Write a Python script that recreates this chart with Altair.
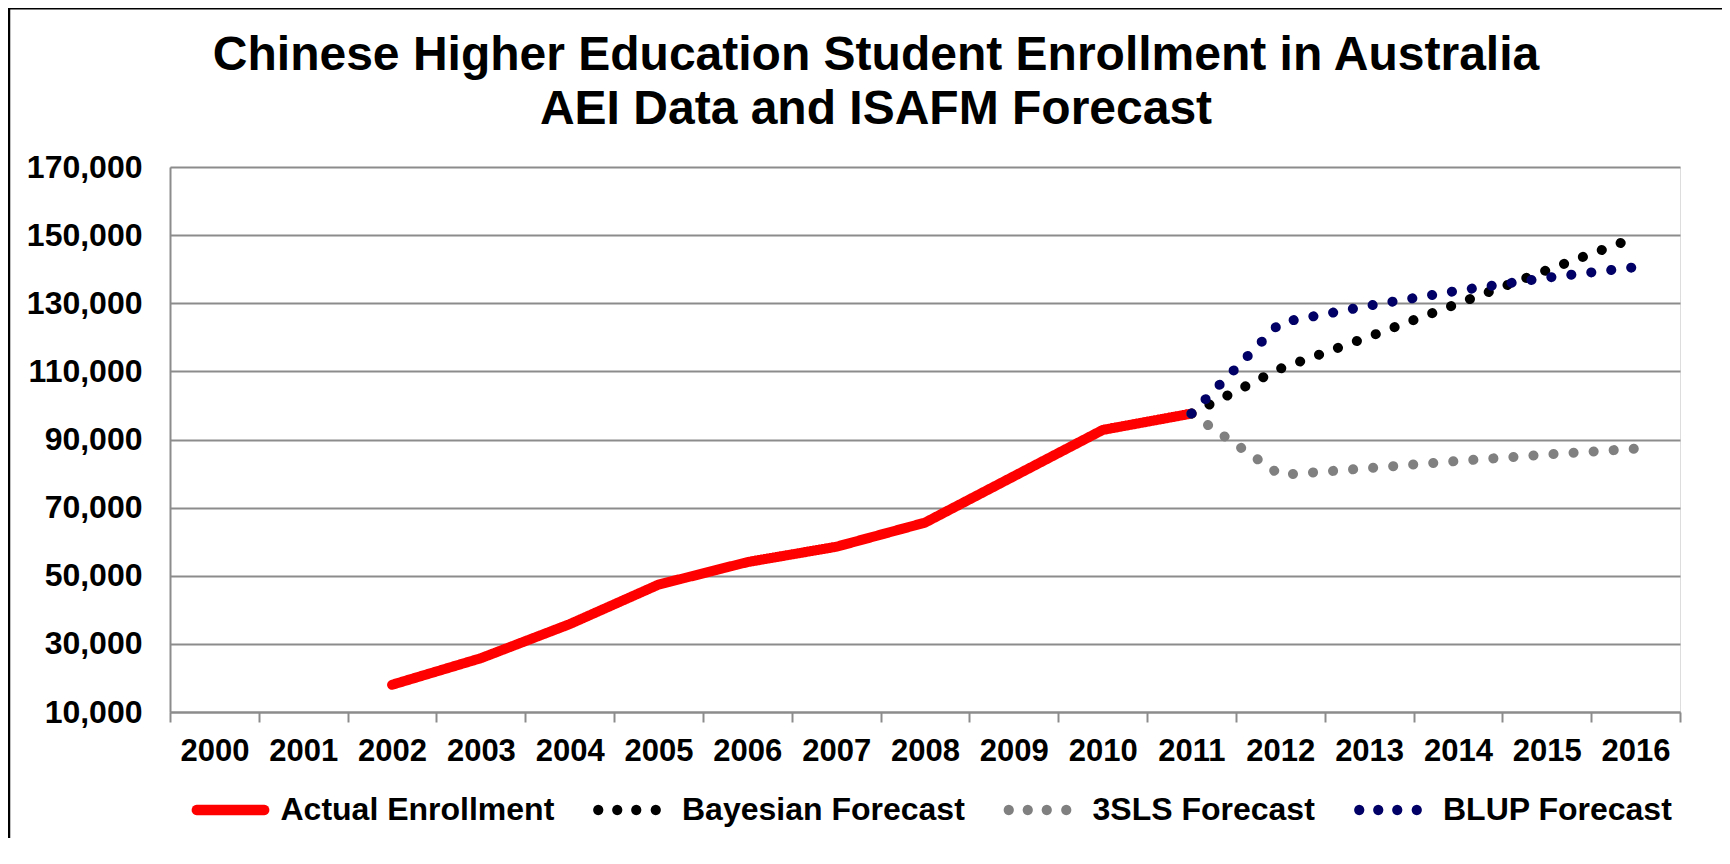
import math
import altair as alt
import pandas as pd

years = [str(y) for y in range(2000, 2017)]
series_names = ["Actual Enrollment", "Bayesian Forecast", "3SLS Forecast", "BLUP Forecast"]
series_colors = ["#FF0000", "#000000", "#808080", "#000066"]

actual_years = ["2002", "2003", "2004", "2005", "2006", "2007", "2008", "2009", "2010", "2011"]
actual_values = [18000, 25800, 35800, 47400, 54000, 58500, 65600, 79200, 92800, 97600]

forecast_years = ["2011", "2012", "2013", "2014", "2015", "2016"]
bayesian_values = [97600, 110800, 120200, 129900, 139700, 149300]
sls_values = [97600, 79600, 81600, 83700, 85600, 87300]
blup_values = [97600, 124300, 129300, 133700, 137500, 140600]

title_lines = ["Chinese Higher Education Student Enrollment in Australia", "AEI Data and ISAFM Forecast"]

rows = []
for y, v in zip(actual_years, actual_values):
    rows.append({"series": series_names[0], "year": y, "value": v})
for name, vals in zip(series_names[1:], [bayesian_values, sls_values, blup_values]):
    for y, v in zip(forecast_years, vals):
        rows.append({"series": name, "year": y, "value": v})
df = pd.DataFrame(rows)

FONT = "Liberation Sans"
GRID = "#8c8c8c"

# legend glyphs, in unit coordinates of the legend symbol box (filled shapes)
R = 0.152


def arc_pts(cx, start_deg, end_deg, n=12):
    out = []
    for i in range(n + 1):
        a = math.radians(start_deg + (end_deg - start_deg) * i / n)
        out.append((cx + R * math.cos(a), R * math.sin(a)))
    return out


def poly(pts):
    return "M" + "L".join(f"{x:.4f},{y:.4f}" for x, y in pts) + "Z"


solid_glyph = poly(arc_pts(1.0, -90, 90) + arc_pts(-1.0, 90, 270))
dot_centres = [-1.0, -0.437, 0.126, 0.704]
dotted_glyph = "".join(poly(arc_pts(c, 0, 360, 16)[:-1]) for c in dot_centres)
glyphs = [solid_glyph, dotted_glyph, dotted_glyph, dotted_glyph]

legend = alt.Legend(title=None, orient="none", direction="horizontal",
                    legendX=26.5, legendY=609,
                    symbolSize=4556, symbolStrokeWidth=0,
                    labelFont=FONT, labelFontSize=32, labelFontWeight="bold",
                    labelColor="black", labelOffset=16, columnPadding=38.5,
                    labelLimit=0, padding=0)

x_enc = alt.X("year:O", sort=years,
              scale=alt.Scale(type="band", domain=years, paddingInner=0, paddingOuter=0),
              axis=alt.Axis(title=None, labelAngle=0, labelFont=FONT, labelFontSize=31,
                            labelFontWeight="bold", labelColor="black", labelPadding=14,
                            tickBand="extent", tickSize=10, tickColor=GRID, tickWidth=2,
                            domainColor=GRID, domainWidth=2, grid=False))
y_enc = alt.Y("value:Q",
              scale=alt.Scale(domain=[10000, 170000], nice=False, zero=False),
              axis=alt.Axis(title=None, values=list(range(10000, 170001, 20000)), format=",d",
                            labelFont=FONT, labelFontSize=32, labelFontWeight="bold",
                            labelColor="black", labelPadding=28, ticks=False, tickSize=0,
                            domainColor=GRID, domainWidth=2,
                            grid=True, gridColor=GRID, gridWidth=2))
color_enc = alt.Color("series:N", sort=series_names,
                      scale=alt.Scale(domain=series_names, range=series_colors),
                      legend=legend)

lines = alt.Chart(df).mark_line(strokeWidth=10, strokeCap="round", strokeJoin="round").encode(
    x=x_enc, y=y_enc, color=color_enc,
    strokeDash=alt.StrokeDash("series:N", sort=series_names,
                              scale=alt.Scale(domain=series_names,
                                              range=[[1, 0], [0.1, 20], [0.1, 20], [0.1, 20]]),
                              legend=None),
)

# empty layer that only carries the legend glyphs
legend_carrier = alt.Chart(df).transform_filter("false").mark_point(
    filled=True, opacity=1, strokeWidth=0).encode(
    x=x_enc, y=y_enc, color=color_enc,
    shape=alt.Shape("series:N", sort=series_names,
                    scale=alt.Scale(domain=series_names, range=glyphs),
                    legend=legend),
)

frame_df = pd.DataFrame({"k": [0]})
top_border = alt.Chart(frame_df).mark_rule(color="black", strokeWidth=3).encode(
    x=alt.value(-170), x2=alt.value(1560), y=alt.value(-159))
left_border = alt.Chart(frame_df).mark_rule(color="black", strokeWidth=2.5).encode(
    x=alt.value(-161), y=alt.value(-170), y2=alt.value(700))

title1 = alt.Chart(frame_df).mark_text(
    text=title_lines[0], font=FONT, fontSize=48, fontWeight="bold", color="black",
    align="center", baseline="alphabetic").encode(x=alt.value(706), y=alt.value(-97))
title2 = alt.Chart(frame_df).mark_text(
    text=title_lines[1], font=FONT, fontSize=48, fontWeight="bold", color="black",
    align="center", baseline="alphabetic").encode(x=alt.value(706), y=alt.value(-43))

chart = alt.layer(lines, legend_carrier, top_border, left_border, title1, title2).properties(
    width=1510, height=545,
    autosize=alt.AutoSizeParams(type="none"),
    padding={"left": 162, "top": 159, "right": 42, "bottom": 126},
).configure_view(stroke=GRID, strokeWidth=2).configure(background="white")

chart.save("out.html", embed_options={"renderer": "svg", "actions": False})
